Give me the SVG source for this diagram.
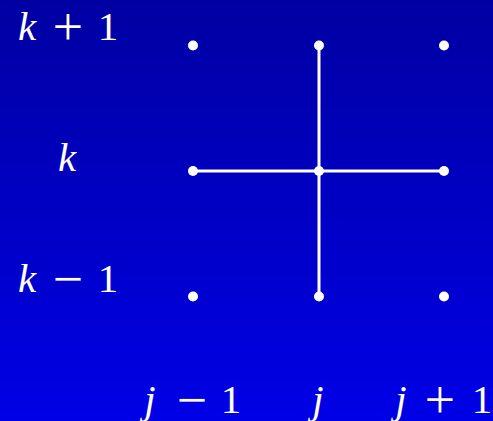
<svg xmlns="http://www.w3.org/2000/svg" width="493" height="421" viewBox="0 0 493 421">
<style>
.lbl{font-family:"Liberation Serif","DejaVu Serif",serif;font-size:41px;fill:#fff;text-anchor:middle}
.v{font-style:italic}
.op{font-size:54px}
.dot{fill:#fff}
.ln{stroke:#fff;stroke-width:3;fill:none}
</style>
<defs>
<linearGradient id="bg" x1="0" y1="0" x2="0" y2="1">
<stop offset="0" stop-color="#0000a2"/>
<stop offset="1" stop-color="#0000e6"/>
</linearGradient>
</defs>
<rect width="493" height="421" fill="url(#bg)"/>
<g id="connectors">
<line class="ln" x1="319" y1="45.5" x2="319" y2="296.5"/>
<line class="ln" x1="193" y1="171" x2="444" y2="171"/>
</g>
<g id="n-1-top"><circle class="dot" cx="193" cy="45.5" r="5"/></g>
<g id="n-2-top"><circle class="dot" cx="319" cy="45.5" r="5"/></g>
<g id="n-3-top"><circle class="dot" cx="444" cy="45.5" r="5"/></g>
<g id="n-1-mid"><circle class="dot" cx="193" cy="171" r="5"/></g>
<g id="n-2-mid"><circle class="dot" cx="319" cy="171" r="5"/></g>
<g id="n-3-mid"><circle class="dot" cx="444" cy="171" r="5"/></g>
<g id="n-1-bot"><circle class="dot" cx="193" cy="296.5" r="5"/></g>
<g id="n-2-bot"><circle class="dot" cx="319" cy="296.5" r="5"/></g>
<g id="n-3-bot"><circle class="dot" cx="444" cy="296.5" r="5"/></g>
<g id="labels">
<text class="lbl" y="40"><tspan class="v" x="27">k</tspan><tspan x="108">1</tspan></text>
<text class="lbl op" x="68" y="45">+</text>
<text class="lbl" y="171"><tspan class="v" x="67">k</tspan></text>
<text class="lbl" y="292"><tspan class="v" x="27">k</tspan><tspan x="108">1</tspan></text>
<text class="lbl op" x="68" y="297">−</text>
<text class="lbl" y="413"><tspan class="v" x="150">j</tspan><tspan x="231">1</tspan></text>
<text class="lbl op" x="192" y="418">−</text>
<text class="lbl" y="413"><tspan class="v" x="318">j</tspan></text>
<text class="lbl" y="413"><tspan class="v" x="401">j</tspan><tspan x="482">1</tspan></text>
<text class="lbl op" x="440" y="418">+</text>
</g>
</svg>
